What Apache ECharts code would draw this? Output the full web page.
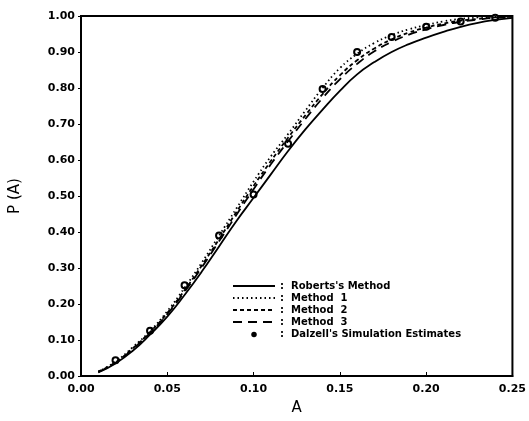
<!DOCTYPE html>
<html>
<head>
<meta charset="utf-8">
<script src="https://cdn.jsdelivr.net/npm/echarts@6/dist/echarts.min.js"></script>
<style>
  html, body { margin: 0; padding: 0; background: #fff; }
  #main { width: 529px; height: 421px; }
</style>
</head>
<body>
<div id="main"></div>
<script>
// values
var aValues = [0.01, 0.02, 0.03, 0.04, 0.05, 0.06, 0.07, 0.08, 0.09, 0.10, 0.11, 0.12, 0.13,
  0.14, 0.15, 0.16, 0.17, 0.18, 0.19, 0.20, 0.21, 0.22, 0.23, 0.24, 0.25]
var roberts = [0.010, 0.035, 0.070, 0.115, 0.165, 0.225, 0.290, 0.360, 0.430, 0.495, 0.560, 0.625, 0.685,
  0.740, 0.792, 0.838, 0.872, 0.900, 0.922, 0.940, 0.956, 0.970, 0.981, 0.989, 0.995]
var method1 = [0.012, 0.040, 0.080, 0.125, 0.180, 0.245, 0.315, 0.390, 0.465, 0.540, 0.610, 0.672, 0.737,
  0.800, 0.855, 0.895, 0.925, 0.947, 0.963, 0.975, 0.985, 0.992, 0.996, 0.998, 1.000]
var method2 = [0.012, 0.038, 0.077, 0.122, 0.175, 0.238, 0.307, 0.380, 0.455, 0.528, 0.597, 0.662, 0.724,
  0.783, 0.835, 0.877, 0.910, 0.935, 0.954, 0.968, 0.979, 0.987, 0.992, 0.996, 0.998]
var method3 = [0.011, 0.037, 0.075, 0.120, 0.172, 0.234, 0.302, 0.374, 0.447, 0.519, 0.588, 0.652, 0.714,
  0.772, 0.824, 0.867, 0.902, 0.928, 0.948, 0.963, 0.975, 0.984, 0.990, 0.995, 0.997]
var dalzellA = [0.02, 0.04, 0.06, 0.08, 0.10, 0.12, 0.14, 0.16, 0.18, 0.20, 0.22, 0.24]
var dalzellP = [0.044, 0.126, 0.252, 0.390, 0.504, 0.645, 0.797, 0.900, 0.942, 0.970, 0.985, 0.995]
var seriesNames = ["Roberts's Method", 'Method  1', 'Method  2', 'Method  3', "Dalzell's Simulation Estimates"]

function pairs(xs, ys) {
  var out = []
  for (var i = 0; i < xs.length; i++) {
    out.push([xs[i], ys[i]])
  }
  return out
}

var myChart = echarts.init(document.getElementById('main'))

var font = 'DejaVu Sans'
var lineSeries = function(name, data, type, width) {
  return {
    name: name,
    type: 'line',
    data: pairs(aValues, data),
    smooth: true,
    showSymbol: false,
    symbol: 'none',
    color: '#000',
    lineStyle: { color: '#000', width: width, type: type }
  }
}

// small dot inside a wide empty box, so the legend doesn't blow it up
var dotIcon = 'path://M-21,-6M21,6M-3,0A3,3,0,1,0,3,0A3,3,0,1,0,-3,0Z'

var legendData = seriesNames.map(function(n, i) {
  if (i === 4) {
    return { name: n, icon: dotIcon, itemStyle: { color: '#000', borderWidth: 0, opacity: 1 } }
  }
  return { name: n }
})

var option = {
  animation: false,
  backgroundColor: '#fff',
  grid: {
    left: 81,
    right: 16,
    top: 16,
    bottom: 40,
    show: true,
    borderColor: '#000',
    borderWidth: 2
  },
  legend: {
    orient: 'vertical',
    left: 227,
    top: 276,
    itemGap: 2,
    itemWidth: 42,
    itemHeight: 11,
    data: legendData,
    itemStyle: { color: 'rgba(0,0,0,0)', borderWidth: 0 },
    formatter: function(name) { return ':  ' + name },
    textStyle: { color: '#000', fontFamily: font, fontWeight: 'bold', fontSize: 10 }
  },
  xAxis: {
    type: 'value',
    min: 0,
    max: 0.25,
    interval: 0.05,
    name: 'A',
    nameLocation: 'middle',
    nameGap: 25,
    nameTextStyle: { color: '#000', fontFamily: font, fontSize: 15 },
    axisLine: { lineStyle: { color: '#000', width: 2 } },
    axisTick: { inside: true, length: 4, lineStyle: { color: '#000' } },
    axisLabel: { color: '#000', fontFamily: font, fontWeight: 'bold', fontSize: 11,
      formatter: function(v) { return v.toFixed(2) } },
    splitLine: { show: false }
  },
  yAxis: {
    type: 'value',
    min: 0,
    max: 1,
    interval: 0.1,
    name: 'P (A)',
    nameLocation: 'middle',
    nameGap: 58,
    nameRotate: 90,
    nameTextStyle: { color: '#000', fontFamily: font, fontSize: 15 },
    axisLine: { lineStyle: { color: '#000', width: 2 } },
    axisTick: { length: 3, lineStyle: { color: '#000' } },
    axisLabel: { color: '#000', fontFamily: font, fontWeight: 'bold', fontSize: 11, margin: 6,
      formatter: function(v) { return v.toFixed(2) } },
    splitLine: { show: false }
  },
  series: [
    lineSeries(seriesNames[0], roberts, 'solid', 1.8),
    lineSeries(seriesNames[1], method1, [1.5, 3], 1.8),
    lineSeries(seriesNames[2], method2, [4, 3], 1.8),
    lineSeries(seriesNames[3], method3, [9, 6], 1.8),
    {
      name: seriesNames[4],
      type: 'scatter',
      data: pairs(dalzellA, dalzellP),
      symbol: 'circle',
      symbolSize: 6,
      color: '#000',
      itemStyle: { color: '#fff', borderColor: '#000', borderWidth: 2, opacity: 1 }
    }
  ]
}

myChart.setOption(option)
</script>
</body>
</html>
